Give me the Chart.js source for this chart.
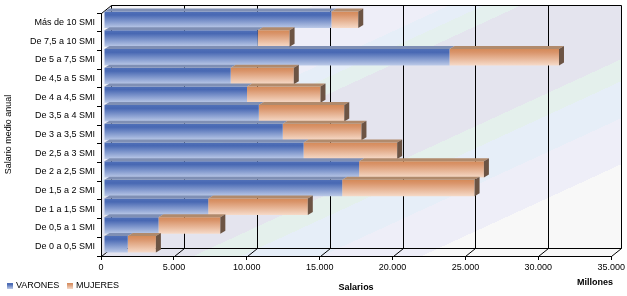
<!DOCTYPE html>
<html>
<head>
<meta charset="utf-8">
<script src="https://cdn.jsdelivr.net/npm/chart.js@4/dist/chart.umd.min.js"></script>
<style>
  html, body { margin: 0; padding: 0; background: #fff; }
  #wrap { width: 627px; height: 296px; }
</style>
</head>
<body>
<div id="wrap"><canvas id="grafico" width="627" height="296"></canvas></div>
<script>
// datos (millones)
const tramos = ['Más de 10 SMI', 'De 7,5 a 10 SMI', 'De 5 a 7,5 SMI', 'De 4,5 a 5 SMI', 'De 4 a 4,5 SMI',
  'De 3,5 a 4 SMI', 'De 3 a 3,5 SMI', 'De 2,5 a 3 SMI', 'De 2 a 2,5 SMI', 'De 1,5 a 2 SMI',
  'De 1 a 1,5 SMI', 'De 0,5 a 1 SMI', 'De 0 a 0,5 SMI']
const varones = [15600, 10550, 23700, 8690, 9810, 10620, 12260, 13690, 17500, 16340, 7150, 3740, 1630]
const mujeres = [1840, 2180, 7510, 4330, 5040, 5860, 5400, 6420, 8560, 9080, 6830, 4240, 1930]
const xTicks = [0, 5000, 10000, 15000, 20000, 25000, 30000, 35000]
const xTickLabels = ['0', '5.000', '10.000', '15.000', '20.000', '25.000', '30.000', '35.000']

const FONT = "'Liberation Sans', Arial, sans-serif"
const DX = 10, DY = -8        // profundidad del fondo
const BDX = 5, BDY = -3       // profundidad de las barras
const BAR_PCT = 0.88

const blueStops = [[0, '#5070b8'], [0.2, '#4868b3'], [1, '#bccaE8']]
const orangeStops = [[0, '#d58a58'], [0.2, '#d9946a'], [1, '#f6dac8']]

function barGradient(c, stops) {
  const chart = c.chart
  const y = chart.scales.y
  if (!chart.chartArea || !y || c.dataIndex === undefined) return stops[1][1]
  const yc = y.getPixelForValue(c.dataIndex)
  const h = y.height / tramos.length * BAR_PCT / 2
  const g = chart.ctx.createLinearGradient(0, yc - h, 0, yc + h)
  stops.forEach(s => g.addColorStop(s[0], s[1]))
  return g
}

const px = v => Math.round(v) + 0.5

// fondo con franjas diagonales + planos 3D
const fondo = {
  id: 'fondo',
  beforeDraw(chart) {
    const { ctx, chartArea: a, scales: { x } } = chart
    const bTop = a.top + DY, bBot = a.bottom + DY, bRight = a.right + DX
    ctx.save()
    // franjas: s = 0.46*x + y
    const k = 600 / 1.2116
    const g = ctx.createLinearGradient(0, 0, 0.46 * k, k)
    const bands = [[0, '#f6f6f9'], [150, '#eeeef8'], [212, '#e6eef8'], [228, '#e4f0ee'], [245, '#e4e4ee'],
      [345, '#e4f0ec'], [367, '#e6eef8'], [404, '#eeeef8'], [450, '#f8f8f8'], [600, '#f8f8f8']]
    bands.forEach((b, i) => {
      if (i > 0) g.addColorStop(b[0] / 600, bands[i - 1][1])
      g.addColorStop(b[0] / 600, b[1])
    })
    ctx.fillStyle = g
    ctx.beginPath()
    ctx.moveTo(a.left, a.top)
    ctx.lineTo(a.left + DX, bTop)
    ctx.lineTo(bRight, bTop)
    ctx.lineTo(bRight, bBot)
    ctx.lineTo(a.right, a.bottom)
    ctx.lineTo(a.left, a.bottom)
    ctx.closePath()
    ctx.fill()

    ctx.strokeStyle = '#000'
    ctx.lineWidth = 1
    ctx.beginPath()
    // marco del fondo
    ctx.moveTo(px(a.left + DX), px(bTop)); ctx.lineTo(px(bRight), px(bTop))
    ctx.moveTo(px(a.left + DX), px(bBot)); ctx.lineTo(px(bRight), px(bBot))
    ctx.moveTo(px(a.left), px(a.top)); ctx.lineTo(px(a.left + DX), px(bTop))
    xTicks.forEach(v => {
      const p = x.getPixelForValue(v)
      ctx.moveTo(px(p + DX), px(bTop)); ctx.lineTo(px(p + DX), px(bBot))
      ctx.moveTo(px(p), px(a.bottom)); ctx.lineTo(px(p + DX), px(bBot))
    })
    ctx.stroke()
    ctx.restore()
  },
  beforeDatasetsDraw(chart) {
    chart.ctx.save()
    chart.ctx.translate(3, -2.5)
  },
  afterDatasetsDraw(chart) {
    const ctx = chart.ctx
    const tops = ['#7f8fb4', '#b08a6c']
    chart.data.datasets.forEach((ds, di) => {
      chart.getDatasetMeta(di).data.forEach(bar => {
        const t = bar.y - bar.height / 2, b = bar.y + bar.height / 2
        ctx.fillStyle = tops[di]
        ctx.beginPath()
        ctx.moveTo(bar.base, t)
        ctx.lineTo(bar.x, t)
        ctx.lineTo(bar.x + BDX, t + BDY)
        ctx.lineTo(bar.base + BDX, t + BDY)
        ctx.closePath()
        ctx.fill()
        if (di === chart.data.datasets.length - 1) {
          ctx.fillStyle = '#6c5444'
          ctx.beginPath()
          ctx.moveTo(bar.x, t)
          ctx.lineTo(bar.x + BDX, t + BDY)
          ctx.lineTo(bar.x + BDX, b + BDY)
          ctx.lineTo(bar.x, b)
          ctx.closePath()
          ctx.fill()
        }
      })
    })
    ctx.restore()
  },
  afterDraw(chart) {
    const ctx = chart.ctx
    ctx.save()
    ctx.fillStyle = '#000'
    ctx.font = 'bold 9px ' + FONT
    ctx.textAlign = 'center'
    ctx.textBaseline = 'middle'
    ctx.fillText('Millones', 595, 283)
    // leyenda
    const items = [['VARONES', blueStops, 7], ['MUJERES', orangeStops, 67]]
    ctx.font = '9px ' + FONT
    ctx.textAlign = 'left'
    items.forEach(([txt, stops, lx]) => {
      const g = ctx.createLinearGradient(0, 283, 0, 289)
      stops.forEach(s => g.addColorStop(s[0], s[1]))
      ctx.fillStyle = g
      ctx.fillRect(lx, 283, 6, 6)
      ctx.fillStyle = '#000'
      ctx.fillText(txt, lx + 9, 286)
    })
    ctx.restore()
  }
}

new Chart(document.querySelector('#grafico'), {
  type: 'bar',
  data: {
    labels: tramos,
    datasets: [
      { label: 'VARONES', data: varones, backgroundColor: c => barGradient(c, blueStops) },
      { label: 'MUJERES', data: mujeres, backgroundColor: c => barGradient(c, orangeStops) }
    ]
  },
  options: {
    indexAxis: 'y',
    responsive: false,
    animation: false,
    events: [],
    layout: { padding: { top: 13, right: 12, left: 0, bottom: 0 } },
    datasets: { bar: { barPercentage: BAR_PCT, categoryPercentage: 1, borderWidth: 0 } },
    plugins: { legend: { display: false }, tooltip: { enabled: false } },
    scales: {
      x: {
        stacked: true,
        min: 0,
        max: 35000,
        afterBuildTicks: s => { s.ticks = xTicks.map(v => ({ value: v })) },
        afterFit: s => { s.height = 40 },
        grid: { display: true, drawOnChartArea: false, drawTicks: true, tickLength: 4, color: '#000' },
        border: { display: true, color: '#000' },
        ticks: {
          color: '#000', padding: 2, maxRotation: 0, autoSkip: false,
          font: { family: FONT, size: 9 },
          callback: (v, i) => xTickLabels[i]
        },
        title: {
          display: true, text: 'Salarios', color: '#000',
          font: { family: FONT, size: 9, weight: 'bold' },
          padding: { top: 0, bottom: 3 }
        }
      },
      y: {
        stacked: true,
        afterFit: s => { s.width = 101 },
        grid: { display: true, drawOnChartArea: false, drawTicks: true, tickLength: 4, color: '#000', offset: true },
        border: { display: true, color: '#000' },
        ticks: { color: '#000', padding: 2, autoSkip: false, font: { family: FONT, size: 9 } },
        title: {
          display: true, text: 'Salario medio anual', color: '#000',
          font: { family: FONT, size: 9 },
          padding: { top: 3, bottom: 0 }
        }
      }
    }
  },
  plugins: [fondo]
})
</script>
</body>
</html>
